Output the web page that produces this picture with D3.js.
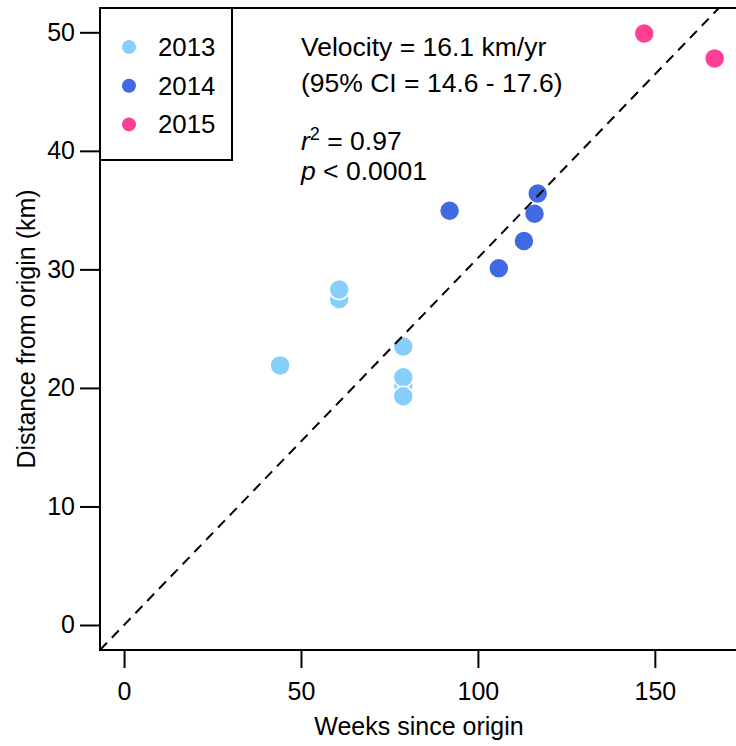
<!DOCTYPE html>
<html>
<head>
<meta charset="utf-8">
<script src="https://cdn.jsdelivr.net/npm/d3@7"></script>
<style>
  body { margin: 0; background: #fff; }
  text { font-family: "Liberation Sans", Arial, sans-serif; fill: #000; }
</style>
</head>
<body>
<script>
// data
const years = ["2013", "2014", "2015"];
const yearColors = ["#87CEFA", "#4169E1", "#FF3E96"];
const weeks13 = [44.1, 60.8, 60.8, 78.9, 78.9, 78.9, 78.9];
const dist13  = [21.9, 27.5, 28.3, 23.5, 20.2, 20.9, 19.3];
const weeks14 = [92.0, 105.9, 113.0, 116.0, 116.9];
const dist14  = [34.95, 30.1, 32.4, 34.7, 36.4];
const weeks15 = [147.0, 166.9];
const dist15  = [49.9, 47.8];
const xTicks = [0, 50, 100, 150];
const yTicks = [0, 10, 20, 30, 40, 50];
const VELOCITY = 16.1; // km/yr, slope of the dashed line = VELOCITY / 52 km/week
const statLines = ["Velocity = 16.1 km/yr", "(95% CI = 14.6 - 17.6)"];

const W = 736, H = 746;
const PLOT = { L: 100, R: 738, T: 8, B: 650 };
const FS = 25;
const FS_NOTE = 26.5;

const svg = d3.select("body").append("svg").attr("width", W).attr("height", H);

const x = d3.scaleLinear().domain([-6.8, 173.5]).range([PLOT.L, PLOT.R]);
const y = d3.scaleLinear().domain([-2, 52]).range([648.7, 8.6]);

// axes
const xAxis = svg.append("g")
  .attr("transform", `translate(0, ${PLOT.B})`)
  .call(d3.axisBottom(x).tickValues(xTicks).tickSize(18).tickPadding(14).tickSizeOuter(0));
const yAxis = svg.append("g")
  .attr("transform", `translate(${PLOT.L}, 0)`)
  .call(d3.axisLeft(y).tickValues(yTicks).tickSize(20).tickPadding(5).tickSizeOuter(0));
[xAxis, yAxis].forEach(g => {
  g.select(".domain").remove();
  g.selectAll("line").attr("stroke", "#000").attr("stroke-width", 2);
  g.selectAll("text").attr("font-size", FS).attr("font-family", "Liberation Sans, Arial, sans-serif").attr("fill", "#000");
});

// points
svg.append("clipPath").attr("id", "plotclip")
  .append("rect").attr("x", PLOT.L).attr("y", PLOT.T)
  .attr("width", PLOT.R - PLOT.L).attr("height", PLOT.B - PLOT.T);

const series = [
  { year: years[0], color: yearColors[0], xs: weeks13, ys: dist13 },
  { year: years[1], color: yearColors[1], xs: weeks14, ys: dist14 },
  { year: years[2], color: yearColors[2], xs: weeks15, ys: dist15 }
];
const pts = series.flatMap(s => s.xs.map((w, i) => ({ w, d: s.ys[i], color: s.color })));

svg.append("g").selectAll("circle")
  .data(pts)
  .join("circle")
  .attr("cx", d => x(d.w))
  .attr("cy", d => y(d.d))
  .attr("r", 10)
  .attr("fill", d => d.color)
  .attr("stroke", "#fff")
  .attr("stroke-width", 1.5);

// dashed line through origin
const slope = VELOCITY / 52;
const x0 = x.domain()[0], x1 = x.domain()[1];
svg.append("line")
  .attr("clip-path", "url(#plotclip)")
  .attr("x1", x(x0)).attr("y1", y(slope * x0))
  .attr("x2", x(x1)).attr("y2", y(slope * x1))
  .attr("stroke", "#000")
  .attr("stroke-width", 2)
  .attr("stroke-dasharray", "10,7");

// plot frame
svg.append("rect")
  .attr("x", PLOT.L).attr("y", PLOT.T)
  .attr("width", PLOT.R - PLOT.L).attr("height", PLOT.B - PLOT.T)
  .attr("fill", "none").attr("stroke", "#000").attr("stroke-width", 2);

// axis titles
svg.append("text")
  .attr("x", (PLOT.L + PLOT.R) / 2).attr("y", 735)
  .attr("text-anchor", "middle").attr("font-size", FS)
  .text("Weeks since origin");
svg.append("text")
  .attr("transform", `translate(35, ${(PLOT.T + PLOT.B) / 2}) rotate(-90)`)
  .attr("text-anchor", "middle").attr("font-size", FS)
  .text("Distance from origin (km)");

// legend
const legend = svg.append("g");
legend.append("rect")
  .attr("x", 100).attr("y", 8).attr("width", 132).attr("height", 152)
  .attr("fill", "#fff").attr("stroke", "#000").attr("stroke-width", 2);
years.forEach((yr, i) => {
  legend.append("circle")
    .attr("cx", 129).attr("cy", 47 + i * 38.7).attr("r", 7)
    .attr("fill", yearColors[i]);
  legend.append("text")
    .attr("x", 158).attr("y", 47 + i * 38.7 + 9)
    .attr("font-size", 25.8).text(yr);
});

// statistics text
statLines.forEach((s, i) => {
  svg.append("text").attr("x", 301).attr("y", 56 + i * 35.5)
    .attr("font-size", FS_NOTE).text(s);
});
const r2 = svg.append("text").attr("x", 301).attr("y", 150).attr("font-size", FS_NOTE);
r2.append("tspan").attr("font-style", "italic").text("r");
r2.append("tspan").attr("font-size", 18).attr("dy", -10).text("2");
r2.append("tspan").attr("dy", 10).text(" = 0.97");
const pv = svg.append("text").attr("x", 301).attr("y", 180).attr("font-size", FS_NOTE);
pv.append("tspan").attr("font-style", "italic").text("p");
pv.append("tspan").text(" < 0.0001");
</script>
</body>
</html>
